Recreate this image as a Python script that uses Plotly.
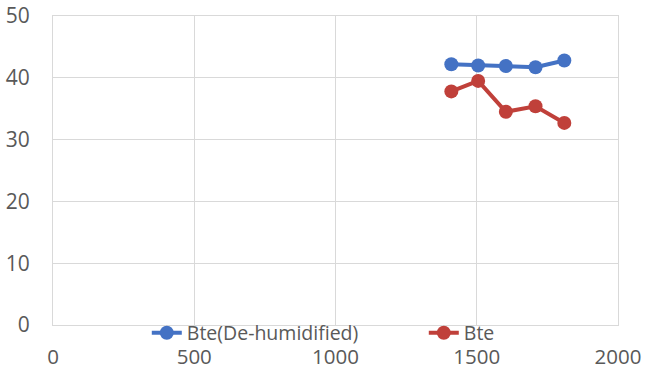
import plotly.graph_objects as go

x_vals = [1410, 1505, 1603, 1708, 1810]
bte_dehum = [42.2, 42.0, 41.9, 41.7, 42.8]
bte = [37.8, 39.5, 34.5, 35.4, 32.7]
x_ticks = [0, 500, 1000, 1500, 2000]
y_ticks = [0, 10, 20, 30, 40, 50]

BLUE = "#4472C4"
RED = "#C0403A"
GRID = "#d9d9d9"
TXT = "#595959"

fig = go.Figure()
fig.add_trace(go.Scatter(x=x_vals, y=bte_dehum, mode="lines+markers",
                         name="Bte(De-humidified)",
                         line=dict(color=BLUE, width=4),
                         marker=dict(color=BLUE, size=14)))
fig.add_trace(go.Scatter(x=x_vals, y=bte, mode="lines+markers",
                         name="Bte",
                         line=dict(color=RED, width=4),
                         marker=dict(color=RED, size=14)))

fig.update_layout(
    width=646, height=370,
    margin=dict(l=53, r=28, t=16, b=45, autoexpand=False),
    paper_bgcolor="white", plot_bgcolor="white",
    font=dict(family="Open Sans", color=TXT, size=21),
    legend=dict(orientation="h", x=0.166, xanchor="left", y=-0.026, yanchor="middle",
                bgcolor="rgba(0,0,0,0)", font=dict(size=19.5, color=TXT),
                entrywidth=232, entrywidthmode="pixels", tracegroupgap=0),
    showlegend=True,
)
fig.update_xaxes(range=[0, 2000], tickvals=x_ticks, showgrid=True, gridcolor=GRID, gridwidth=1,
                 showline=True, linecolor=GRID, mirror=True, zeroline=False, automargin=False,
                 ticks="", ticklabelstandoff=13, tickfont=dict(size=20.5))
fig.update_yaxes(range=[0, 50], tickvals=y_ticks, showgrid=True, gridcolor=GRID, gridwidth=1,
                 showline=True, linecolor=GRID, mirror=True, zeroline=False, automargin=False,
                 ticks="", ticklabelstandoff=18)

fig.write_html("out.html", config={"displayModeBar": False},
               post_script="document.body.style.margin='0';document.body.style.overflow='hidden';")
